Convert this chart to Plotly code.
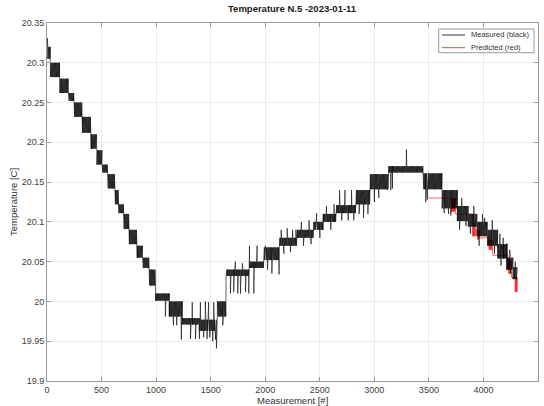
import numpy as np
import plotly.graph_objects as go

# Number of logged measurements
N_SAMPLES = 4310

# Measured temperature: runs where the sensor toggles between two quantised
# levels -> (first sample, last sample, low level, high level)
meas_runs = [
    (0, 30, 20.305, 20.320),
    (30, 115, 20.282, 20.300),
    (115, 195, 20.262, 20.280),
    (195, 250, 20.252, 20.262),
    (250, 320, 20.232, 20.250),
    (320, 400, 20.212, 20.232),
    (400, 455, 20.192, 20.210),
    (455, 505, 20.172, 20.190),
    (505, 555, 20.162, 20.172),
    (555, 620, 20.142, 20.160),
    (620, 655, 20.122, 20.140),
    (655, 700, 20.111, 20.122),
    (700, 750, 20.091, 20.110),
    (750, 825, 20.072, 20.090),
    (825, 875, 20.055, 20.070),
    (875, 935, 20.042, 20.055),
    (935, 995, 20.020, 20.040),
    (995, 1120, 20.001, 20.010),
    (1120, 1240, 19.981, 20.000),
    (1240, 1400, 19.971, 19.979),
    (1400, 1560, 19.963, 19.977),
    (1560, 1640, 19.981, 20.000),
    (1640, 1850, 20.032, 20.040),
    (1850, 1990, 20.042, 20.050),
    (1990, 2130, 20.052, 20.068),
    (2130, 2290, 20.070, 20.080),
    (2290, 2440, 20.080, 20.090),
    (2440, 2530, 20.090, 20.100),
    (2530, 2650, 20.100, 20.110),
    (2650, 2830, 20.111, 20.121),
    (2830, 2960, 20.122, 20.140),
    (2960, 3130, 20.141, 20.160),
    (3130, 3450, 20.162, 20.170),
    (3450, 3620, 20.141, 20.161),
    (3620, 3760, 20.117, 20.140),
    (3760, 3860, 20.101, 20.120),
    (3860, 3940, 20.094, 20.110),
    (3940, 4035, 20.082, 20.100),
    (4035, 4130, 20.070, 20.090),
    (4130, 4210, 20.054, 20.072),
    (4210, 4270, 20.040, 20.055),
    (4270, 4310, 20.028, 20.043),
]

# Single-sample outliers in the measured signal -> (sample, value)
meas_spikes = [
    (2, 20.331), (993, 20.005), (1084, 19.981), (1158, 19.970), (1188, 19.970),
    (1231, 19.952), (1314, 19.953), (1330, 19.999), (1360, 19.953),
    (1396, 19.953), (1405, 19.999), (1435, 19.955), (1450, 20.000),
    (1467, 19.953), (1480, 19.999), (1490, 19.955), (1518, 19.950),
    (1527, 19.999), (1543, 19.952), (1552, 19.941), (1610, 19.970),
    (1680, 20.010), (1710, 20.012), (1725, 20.050), (1747, 20.010),
    (1772, 20.010), (1790, 20.048), (1818, 20.012), (1848, 20.010),
    (1855, 20.070), (1894, 20.010), (1925, 20.070), (2000, 20.070),
    (2020, 20.040), (2060, 20.035), (2126, 20.034), (2145, 20.090),
    (2170, 20.060), (2200, 20.092), (2230, 20.062), (2250, 20.090),
    (2280, 20.090), (2330, 20.100), (2350, 20.070), (2400, 20.102),
    (2420, 20.072), (2470, 20.111), (2500, 20.080), (2560, 20.120),
    (2600, 20.090), (2630, 20.122), (2680, 20.140), (2700, 20.102),
    (2730, 20.140), (2760, 20.102), (2790, 20.140), (2810, 20.102),
    (2860, 20.110), (2900, 20.105), (2940, 20.110), (3000, 20.125),
    (3040, 20.130), (3120, 20.140), (3150, 20.140), (3165, 20.142),
    (3293, 20.191), (3470, 20.125), (3485, 20.128),
    (3640, 20.111), (3680, 20.110), (3700, 20.108),
    (3780, 20.090), (3800, 20.130), (3840, 20.095), (3880, 20.085),
    (3910, 20.120), (3960, 20.070), (3990, 20.110), (4010, 20.105),
    (4079, 20.102), (4100, 20.060), (4150, 20.085), (4160, 20.045),
    (4180, 20.080), (4216, 20.073), (4240, 20.065), (4250, 20.035),
    (4290, 20.050),
]

# Model prediction over the last part of the day, same run format
# (low == high marks a flat stretch)
pred_runs = [
    (3500, 3705, 20.130, 20.130),
    (3705, 3740, 20.113, 20.130),
    (3740, 3900, 20.110, 20.110),
    (3900, 3925, 20.082, 20.098),
    (3925, 3945, 20.090, 20.090),
    (3945, 3960, 20.078, 20.090),
    (3960, 4045, 20.080, 20.080),
    (4045, 4080, 20.065, 20.077),
    (4080, 4225, 20.058, 20.058),
    (4225, 4255, 20.035, 20.052),
    (4255, 4290, 20.030, 20.030),
    (4290, 4310, 20.012, 20.030),
]

x_ticks = [0, 500, 1000, 1500, 2000, 2500, 3000, 3500, 4000, 4500]
x_tick_text = ["0", "500", "1000", "1500", "2000", "2500", "3000", "3500", "4000", "4500"]
y_ticks = [19.9, 19.95, 20.0, 20.05, 20.1, 20.15, 20.2, 20.25, 20.3, 20.35]
y_tick_text = ["19.9", "19.95", "20", "20.05", "20.1", "20.15", "20.2", "20.25", "20.3", "20.35"]

FONT = "Liberation Sans, Arial, sans-serif"
AXIS_GRAY = "#9a9a9a"


def expand_runs(runs, spikes=()):
    """Turn toggle runs into a per-sample series."""
    start, stop = runs[0][0], runs[-1][1]
    idx = np.arange(start, stop)
    vals = np.empty(stop - start)
    for a, b, lo, hi in runs:
        k = np.arange(a, b)
        vals[a - start:b - start] = np.where(k % 2 == 0, lo, hi)
    for i, v in spikes:
        if start <= i < stop:
            vals[i - start] = v
    return idx + 1, vals


mx, my = expand_runs(meas_runs, meas_spikes)
px_, py_ = expand_runs(pred_runs)

fig = go.Figure()
fig.add_trace(go.Scatter(
    x=px_, y=py_, mode="lines", name="Predicted (red)",
    line=dict(color="#ff0000", width=0.6), showlegend=False,
))
fig.add_trace(go.Scatter(
    x=mx, y=my, mode="lines", name="Measured (black)",
    line=dict(color="#000000", width=0.6), showlegend=False,
))

axis_common = dict(
    showgrid=True, gridcolor="#ebebeb", gridwidth=1,
    showline=True, linecolor=AXIS_GRAY, linewidth=1, mirror="ticks",
    ticks="inside", ticklen=4, tickcolor=AXIS_GRAY,
    zeroline=False,
    tickfont=dict(family=FONT, size=9, color="#404040"),
)

# Boxed legend in the upper-right corner of the axes
leg_x0, leg_x1, leg_y0, leg_y1 = 0.7978, 0.9919, 0.917, 0.9832
leg_rows = [("Measured (black)", "#000000", 0.9665), ("Predicted (red)", "#ff0000", 0.931)]
shapes = [dict(type="rect", xref="paper", yref="paper",
               x0=leg_x0, x1=leg_x1, y0=leg_y0, y1=leg_y1,
               line=dict(color=AXIS_GRAY, width=1), fillcolor="white", layer="above")]
annotations = []
for label, color, yy in leg_rows:
    shapes.append(dict(type="line", xref="paper", yref="paper",
                       x0=0.8045, x1=0.8513, y0=yy, y1=yy,
                       line=dict(color=color, width=0.8), layer="above"))
    annotations.append(dict(text=label, xref="paper", yref="paper", x=0.8595, y=yy,
                            xanchor="left", yanchor="middle", showarrow=False,
                            font=dict(family=FONT, size=7.5, color="#303030")))

annotations += [
    dict(text="<b>Temperature N.5 -2023-01-11</b>", xref="paper", yref="paper",
         x=0.5, y=1.0, yshift=7, xanchor="center", yanchor="bottom", showarrow=False,
         font=dict(family=FONT, size=9.5, color="#1a1a1a")),
    dict(text="Measurement [#]", xref="paper", yref="paper",
         x=0.5, y=0, yshift=-19, xanchor="center", yanchor="middle", showarrow=False,
         font=dict(family=FONT, size=9.5, color="#303030")),
    dict(text="Temperature [C]", xref="paper", yref="paper", textangle=-90,
         x=0, xshift=-34, y=0.5, xanchor="center", yanchor="middle", showarrow=False,
         font=dict(family=FONT, size=9.5, color="#303030")),
]

fig.update_layout(
    width=544, height=406,
    margin=dict(l=47, r=6, t=23, b=25),
    paper_bgcolor="white", plot_bgcolor="white",
    showlegend=False,
    xaxis=dict(range=[0, 4500], tickvals=x_ticks, ticktext=x_tick_text, **axis_common),
    yaxis=dict(range=[19.9, 20.35], tickvals=y_ticks, ticktext=y_tick_text, **axis_common),
    shapes=shapes,
    annotations=annotations,
)

fig.write_html("out.html")
